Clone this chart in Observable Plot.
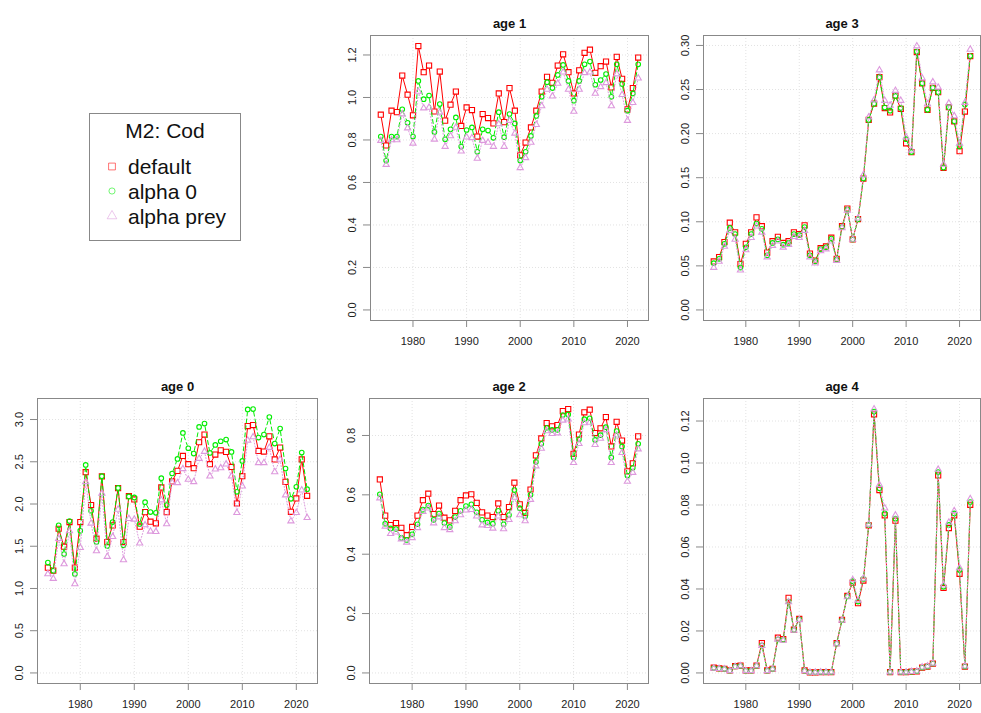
<!DOCTYPE html>
<html><head><meta charset="utf-8">
<script src="https://cdn.jsdelivr.net/npm/d3@7"></script>
<script src="https://cdn.jsdelivr.net/npm/@observablehq/plot@0.6"></script>
<style>
body{margin:0;background:#fff;font-family:"Liberation Sans",Arial,sans-serif;}
#root{position:relative;width:981px;height:713px;overflow:hidden;background:#fff;}
.panel{position:absolute;}
.panel svg{overflow:visible;}
#legend{position:absolute;left:89px;top:113px;}
</style></head><body><div id="root"></div>
<script>
// ---- data ----
const years = [1974,1975,1976,1977,1978,1979,1980,1981,1982,1983,1984,1985,1986,1987,1988,1989,1990,1991,1992,1993,1994,1995,1996,1997,1998,1999,2000,2001,2002,2003,2004,2005,2006,2007,2008,2009,2010,2011,2012,2013,2014,2015,2016,2017,2018,2019,2020,2021,2022];
const xTicks = [1980,1990,2000,2010,2020];
const seriesNames = ["default","alpha 0","alpha prey"];
const legendTitle = "M2: Cod";

const age0Default = [1.247,1.211,1.707,1.495,1.786,1.247,1.786,2.377,1.987,1.589,2.326,1.550,1.747,2.188,1.550,2.093,2.054,1.731,1.904,1.790,1.771,2.196,1.904,2.267,2.392,2.569,2.471,2.424,2.731,2.822,2.471,2.585,2.636,2.617,2.439,2.007,2.329,2.923,2.935,2.628,2.621,2.802,2.527,2.668,2.262,1.908,2.066,2.527,2.097];
const age0Alpha0 = [1.306,1.21,1.747,1.408,1.798,1.172,1.684,2.463,1.920,1.550,2.330,1.503,1.786,2.19,1.511,2.09,2.078,1.763,2.022,1.904,1.896,2.306,1.987,2.361,2.534,2.841,2.660,2.597,2.912,2.952,2.605,2.699,2.743,2.763,2.617,2.144,2.510,3.120,3.124,2.786,2.822,3.030,2.715,2.893,2.420,2.061,2.203,2.609,2.176];
const age0AlphaPrey = [1.172,1.117,1.589,1.290,1.68,1.054,1.483,2.262,1.771,1.444,2.125,1.377,1.613,1.936,1.338,1.826,1.818,1.535,1.751,1.676,1.672,2.046,1.763,2.255,2.250,2.416,2.290,2.262,2.538,2.621,2.329,2.412,2.427,2.471,2.329,1.896,2.211,2.754,2.793,2.487,2.487,2.668,2.380,2.527,2.105,1.798,1.896,2.164,1.837];

const age1Default = [0.919,0.774,0.938,0.931,1.103,1.013,0.916,1.242,1.119,1.150,0.934,1.122,0.891,0.966,1.028,0.866,0.953,0.941,0.816,0.922,0.903,0.878,1.019,0.884,1.044,0.938,0.728,0.788,0.859,0.938,1.028,1.097,1.069,1.150,1.203,1.119,1.019,1.128,1.210,1.225,1.116,1.147,1.169,1.047,1.191,1.088,0.944,1.044,1.188];
const age1Alpha0 = [0.816,0.703,0.816,0.816,0.944,0.881,0.816,1.078,0.992,1.009,0.838,0.969,0.803,0.850,0.906,0.769,0.847,0.859,0.744,0.850,0.844,0.810,0.931,0.813,0.922,0.878,0.703,0.744,0.819,0.913,1.003,1.072,1.044,1.106,1.153,1.078,0.985,1.078,1.156,1.169,1.060,1.082,1.110,1.003,1.156,1.063,0.938,1.019,1.156];
const age1AlphaPrey = [0.797,0.684,0.800,0.800,0.922,0.856,0.784,1.028,0.950,0.953,0.803,0.930,0.769,0.819,0.859,0.747,0.813,0.810,0.713,0.797,0.788,0.769,0.875,0.769,0.891,0.831,0.669,0.716,0.788,0.872,0.960,1.038,1.006,1.066,1.119,1.038,0.934,1.038,1.116,1.119,1.019,1.050,1.069,0.960,1.110,1.013,0.891,0.975,1.091];

const age2Default = [0.652,0.530,0.498,0.505,0.489,0.464,0.492,0.530,0.582,0.604,0.535,0.564,0.523,0.514,0.546,0.582,0.598,0.602,0.573,0.541,0.530,0.525,0.571,0.525,0.559,0.641,0.568,0.539,0.618,0.733,0.790,0.842,0.831,0.835,0.882,0.889,0.738,0.803,0.878,0.887,0.808,0.824,0.862,0.763,0.846,0.783,0.679,0.706,0.797];
const age2Alpha0 = [0.602,0.503,0.487,0.485,0.455,0.448,0.467,0.501,0.550,0.564,0.516,0.537,0.505,0.492,0.525,0.546,0.562,0.568,0.541,0.516,0.507,0.503,0.546,0.501,0.532,0.616,0.555,0.528,0.600,0.711,0.772,0.826,0.819,0.819,0.869,0.871,0.726,0.787,0.855,0.858,0.785,0.801,0.828,0.726,0.815,0.763,0.665,0.691,0.772];
const age2AlphaPrey = [0.589,0.494,0.469,0.474,0.451,0.440,0.455,0.489,0.543,0.555,0.505,0.525,0.489,0.482,0.512,0.532,0.548,0.550,0.528,0.498,0.496,0.487,0.528,0.485,0.516,0.591,0.532,0.512,0.584,0.697,0.756,0.815,0.806,0.808,0.851,0.855,0.708,0.772,0.842,0.844,0.769,0.790,0.819,0.708,0.801,0.742,0.645,0.675,0.754];

const age3Default = [0.055,0.060,0.077,0.099,0.088,0.052,0.075,0.088,0.105,0.095,0.065,0.078,0.083,0.076,0.078,0.088,0.086,0.096,0.064,0.056,0.070,0.072,0.082,0.058,0.095,0.115,0.080,0.103,0.149,0.2155,0.234,0.264,0.229,0.224,0.243,0.228,0.189,0.179,0.2925,0.257,0.227,0.252,0.247,0.161,0.230,0.214,0.180,0.225,0.288];
const age3Alpha0 = [0.053,0.058,0.075,0.093,0.086,0.048,0.071,0.086,0.098,0.092,0.062,0.076,0.080,0.074,0.076,0.086,0.085,0.094,0.062,0.055,0.069,0.071,0.081,0.057,0.094,0.114,0.080,0.103,0.149,0.2155,0.234,0.264,0.2295,0.226,0.2427,0.229,0.1937,0.179,0.293,0.257,0.227,0.252,0.247,0.1615,0.230,0.214,0.1854,0.233,0.288];
const age3AlphaPrey = [0.048,0.055,0.072,0.090,0.080,0.045,0.068,0.082,0.095,0.088,0.060,0.073,0.078,0.071,0.074,0.083,0.082,0.090,0.060,0.053,0.067,0.069,0.078,0.056,0.093,0.113,0.080,0.104,0.153,0.2186,0.238,0.272,0.2375,0.232,0.2488,0.2375,0.1959,0.181,0.2993,0.263,0.2336,0.2585,0.2525,0.165,0.2344,0.220,0.189,0.2352,0.2955];

const age4Default = [0.0025,0.0022,0.0020,0.0012,0.0032,0.0035,0.0012,0.0012,0.0035,0.0142,0.0012,0.0020,0.0168,0.0161,0.0358,0.0206,0.0257,0.0012,0.0003,0.0003,0.0004,0.0004,0.0004,0.0142,0.0253,0.0367,0.0430,0.0332,0.0440,0.0703,0.1232,0.0871,0.0751,0.0004,0.0725,0.0004,0.0004,0.0006,0.0008,0.0025,0.0030,0.0044,0.0941,0.0405,0.0690,0.0751,0.0472,0.0030,0.0801];
const age4Alpha0 = [0.0023,0.0021,0.0019,0.0011,0.0031,0.0034,0.0011,0.0011,0.0034,0.0132,0.0011,0.0019,0.0160,0.0158,0.0340,0.0205,0.0255,0.0011,0.0003,0.0003,0.0004,0.0004,0.0004,0.0140,0.0251,0.0365,0.0437,0.0340,0.0448,0.0705,0.1245,0.0880,0.0760,0.0004,0.0735,0.0004,0.0004,0.0006,0.0008,0.0026,0.0031,0.0045,0.0957,0.0410,0.0705,0.0760,0.0490,0.0031,0.0814];
const age4AlphaPrey = [0.0022,0.0020,0.0018,0.0010,0.0030,0.0033,0.0010,0.0010,0.0033,0.0130,0.0010,0.0018,0.0160,0.0155,0.0338,0.0203,0.0253,0.0010,0.0003,0.0003,0.0004,0.0004,0.0004,0.0138,0.0250,0.0362,0.0443,0.0345,0.0450,0.0708,0.1257,0.0896,0.0785,0.0004,0.0751,0.0004,0.0004,0.0006,0.0008,0.0027,0.0032,0.0046,0.0969,0.0418,0.0717,0.0772,0.0500,0.0032,0.0829];

const ticksAge0 = [0, 0.5, 1, 1.5, 2, 2.5, 3];
const ticksAge1 = [0, 0.2, 0.4, 0.6, 0.8, 1.0, 1.2];
const ticksAge2 = [0, 0.2, 0.4, 0.6, 0.8];
const ticksAge3 = [0, 0.05, 0.10, 0.15, 0.20, 0.25, 0.30];
const ticksAge4 = [0, 0.02, 0.04, 0.06, 0.08, 0.10, 0.12];

// ---- styles / layout ----
const colors = ["#FF0000", "#00EE00", "#DD99DD"];
const symbols = ["square", "circle", "triangle"];
const radii = [2.9, 2.3, 2.3];
const dashes = [null, "4,3", "1,2"];
const FONT = "'Liberation Sans', Arial, Helvetica, sans-serif";

const panels = [
  {title: "age 1", values: [age1Default, age1Alpha0, age1AlphaPrey], ticks: ticksAge1, fmt: ".1f", box: [370, 35, 648, 320]},
  {title: "age 3", values: [age3Default, age3Alpha0, age3AlphaPrey], ticks: ticksAge3, fmt: ".2f", box: [703, 35, 980, 320]},
  {title: "age 0", values: [age0Default, age0Alpha0, age0AlphaPrey], ticks: ticksAge0, fmt: ".1f", box: [37, 398, 317, 683]},
  {title: "age 2", values: [age2Default, age2Alpha0, age2AlphaPrey], ticks: ticksAge2, fmt: ".1f", box: [369, 398, 648, 683]},
  {title: "age 4", values: [age4Default, age4Alpha0, age4AlphaPrey], ticks: ticksAge4, fmt: ".2f", box: [703, 398, 980, 683]}
];

const root = document.getElementById("root");

function drawPanel(p) {
  const [bx0, by0, bx1, by1] = p.box;
  const ML = 37, MR = 1, MT = 35, MB = 30;
  const ymax = d3.max(p.values.flat());
  const xmin = d3.min(years), xmax = d3.max(years);
  const xpad = 0.04 * (xmax - xmin);
  const marks = [
    Plot.gridX(xTicks, {stroke: "#e2e2e2", strokeOpacity: 1, strokeDasharray: "1,2"}),
    Plot.gridY(p.ticks, {stroke: "#e2e2e2", strokeOpacity: 1, strokeDasharray: "1,2"}),
    Plot.axisX(xTicks, {anchor: "bottom", tickSize: 7, tickPadding: 10, fontSize: 11, stroke: "#888", fill: "#222", label: null, tickFormat: d => String(d)}),
    Plot.axisY(p.ticks, {anchor: "left", tickSize: 7, tickPadding: 8, tickRotate: -90, fontSize: 11, stroke: "#888", fill: "#222", label: null, tickFormat: d3.format(p.fmt)}),
    Plot.frame({stroke: "#888"}),
    Plot.text([p.title], {text: d => d, frameAnchor: "top", dy: -17, fontWeight: "bold", fontSize: 13, fill: "#111"})
  ];
  p.values.forEach((vals, s) => {
    const segs = vals.slice(1).map((v, i) => ({x1: years[i], y1: vals[i], x2: years[i + 1], y2: v}));
    const pts = vals.map((v, i) => ({year: years[i], value: v}));
    marks.push(Plot.arrow(segs, {x1: "x1", y1: "y1", x2: "x2", y2: "y2", stroke: colors[s], strokeWidth: 1, headLength: 0, inset: 3.2, strokeDasharray: dashes[s] || undefined}));
    marks.push(Plot.dot(pts, {x: "year", y: "value", symbol: symbols[s], r: radii[s], stroke: colors[s], strokeWidth: 1.1, fill: "none"}));
  });
  const chart = Plot.plot({
    width: (bx1 - bx0) + ML + MR,
    height: (by1 - by0) + MT + MB,
    marginLeft: ML, marginRight: MR, marginTop: MT, marginBottom: MB,
    style: {fontFamily: FONT, fontSize: "11px", background: "transparent", overflow: "visible"},
    x: {domain: [xmin - xpad, xmax + xpad]},
    y: {domain: [-0.04 * ymax, 1.04 * ymax]},
    marks
  });
  const div = document.createElement("div");
  div.className = "panel";
  div.style.left = (bx0 - ML) + "px";
  div.style.top = (by0 - MT) + "px";
  div.style.width = ((bx1 - bx0) + ML + MR) + "px";
  div.appendChild(chart);
  root.appendChild(div);
}
panels.forEach(drawPanel);

// ---- legend ----
const lg = document.createElement("div");
lg.id = "legend";
const rowsY = [53.5, 78, 103];
let svg = `<svg width="152" height="128" xmlns="http://www.w3.org/2000/svg" style="font-family:${FONT}">`;
svg += `<rect x="0.5" y="0.5" width="151" height="127" fill="#fff" stroke="#888"/>`;
svg += `<text x="76" y="17" text-anchor="middle" dominant-baseline="central" font-size="21" fill="#111">${legendTitle}</text>`;
const symPath = [d3.symbol(d3.symbolSquare, 46)(), d3.symbol(d3.symbolCircle, 30)(), d3.symbol(d3.symbolTriangle, 40)()];
seriesNames.forEach((name, i) => {
  svg += `<path d="${symPath[i]}" transform="translate(23,${rowsY[i]})" fill="none" stroke="${colors[i]}" stroke-opacity="0.55" stroke-width="1"/>`;
  svg += `<text x="39" y="${rowsY[i]}" dominant-baseline="central" font-size="21" fill="#111">${name}</text>`;
});
svg += `</svg>`;
lg.innerHTML = svg;
root.appendChild(lg);
</script>
</body></html>
